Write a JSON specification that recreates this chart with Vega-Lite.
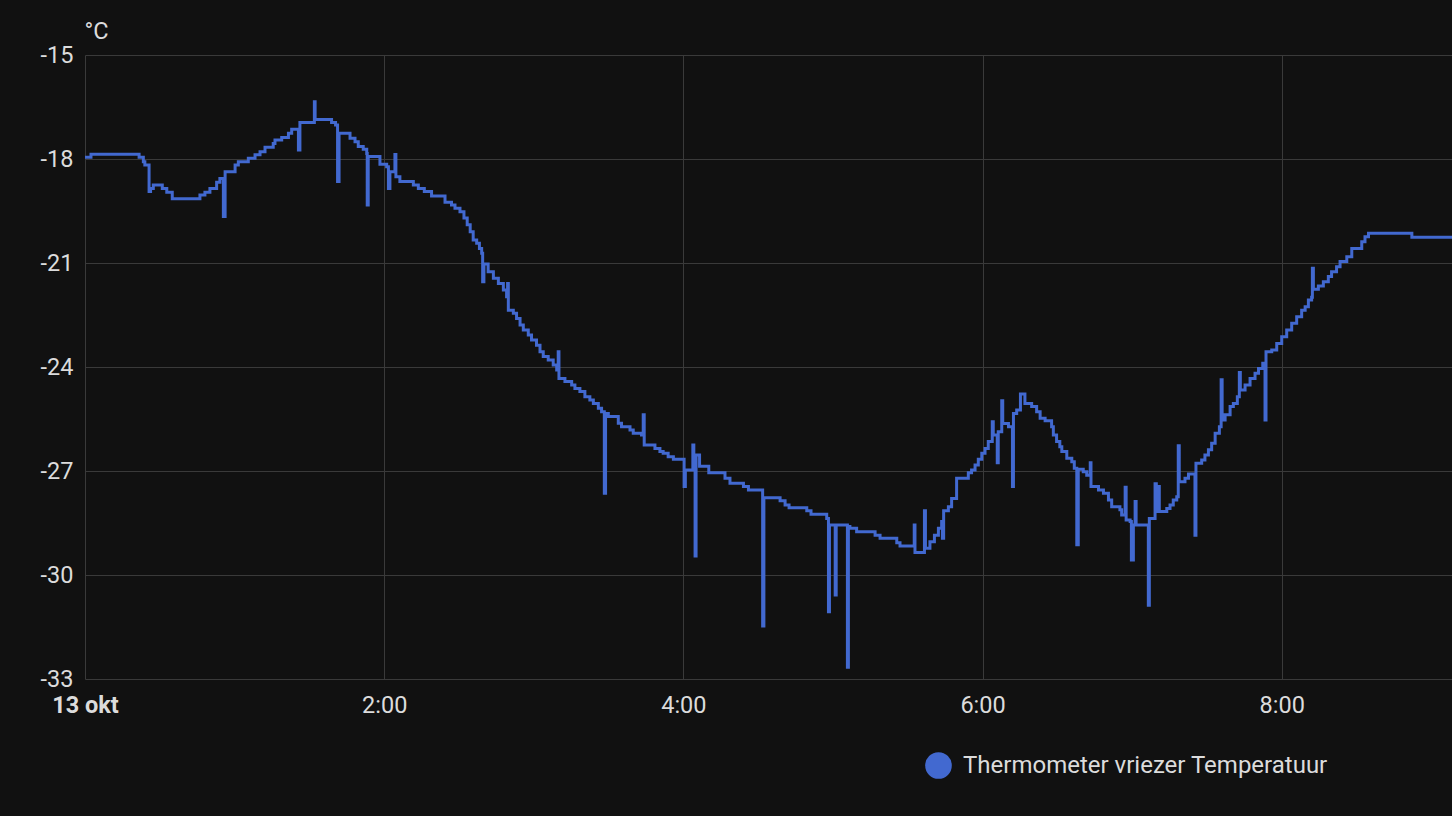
{
  "$schema": "https://vega.github.io/schema/vega-lite/v6.json",
  "width": 1367,
  "height": 624,
  "autosize": {"type": "none"},
  "padding": {"left": 85, "top": 55, "right": 0, "bottom": 137},
  "background": "#111111",
  "config": {
    "view": {"stroke": null},
    "font": "Roboto"
  },
  "data": {
    "values": [
      {"t": "2023-10-13T00:00:00", "v": -17.95, "s": "Thermometer vriezer Temperatuur"},
      {"t": "2023-10-13T00:02:24", "v": -17.86, "s": "Thermometer vriezer Temperatuur"},
      {"t": "2023-10-13T00:21:42", "v": -17.95, "s": "Thermometer vriezer Temperatuur"},
      {"t": "2023-10-13T00:23:24", "v": -18.08, "s": "Thermometer vriezer Temperatuur"},
      {"t": "2023-10-13T00:24:00", "v": -18.17, "s": "Thermometer vriezer Temperatuur"},
      {"t": "2023-10-13T00:25:42", "v": -18.94, "s": "Thermometer vriezer Temperatuur"},
      {"t": "2023-10-13T00:26:18", "v": -18.85, "s": "Thermometer vriezer Temperatuur"},
      {"t": "2023-10-13T00:27:24", "v": -18.75, "s": "Thermometer vriezer Temperatuur"},
      {"t": "2023-10-13T00:31:00", "v": -18.85, "s": "Thermometer vriezer Temperatuur"},
      {"t": "2023-10-13T00:32:48", "v": -18.96, "s": "Thermometer vriezer Temperatuur"},
      {"t": "2023-10-13T00:35:00", "v": -19.15, "s": "Thermometer vriezer Temperatuur"},
      {"t": "2023-10-13T00:46:06", "v": -19.04, "s": "Thermometer vriezer Temperatuur"},
      {"t": "2023-10-13T00:48:06", "v": -18.96, "s": "Thermometer vriezer Temperatuur"},
      {"t": "2023-10-13T00:50:06", "v": -18.85, "s": "Thermometer vriezer Temperatuur"},
      {"t": "2023-10-13T00:52:48", "v": -18.67, "s": "Thermometer vriezer Temperatuur"},
      {"t": "2023-10-13T00:54:06", "v": -18.56, "s": "Thermometer vriezer Temperatuur"},
      {"t": "2023-10-13T00:55:30", "v": -19.66, "s": "Thermometer vriezer Temperatuur"},
      {"t": "2023-10-13T00:55:54", "v": -19.66, "s": "Thermometer vriezer Temperatuur"},
      {"t": "2023-10-13T00:56:12", "v": -18.37, "s": "Thermometer vriezer Temperatuur"},
      {"t": "2023-10-13T01:00:12", "v": -18.17, "s": "Thermometer vriezer Temperatuur"},
      {"t": "2023-10-13T01:01:30", "v": -18.08, "s": "Thermometer vriezer Temperatuur"},
      {"t": "2023-10-13T01:05:30", "v": -17.98, "s": "Thermometer vriezer Temperatuur"},
      {"t": "2023-10-13T01:08:12", "v": -17.88, "s": "Thermometer vriezer Temperatuur"},
      {"t": "2023-10-13T01:10:12", "v": -17.79, "s": "Thermometer vriezer Temperatuur"},
      {"t": "2023-10-13T01:12:12", "v": -17.66, "s": "Thermometer vriezer Temperatuur"},
      {"t": "2023-10-13T01:15:30", "v": -17.55, "s": "Thermometer vriezer Temperatuur"},
      {"t": "2023-10-13T01:16:12", "v": -17.45, "s": "Thermometer vriezer Temperatuur"},
      {"t": "2023-10-13T01:18:54", "v": -17.38, "s": "Thermometer vriezer Temperatuur"},
      {"t": "2023-10-13T01:21:36", "v": -17.26, "s": "Thermometer vriezer Temperatuur"},
      {"t": "2023-10-13T01:22:54", "v": -17.14, "s": "Thermometer vriezer Temperatuur"},
      {"t": "2023-10-13T01:25:36", "v": -17.74, "s": "Thermometer vriezer Temperatuur"},
      {"t": "2023-10-13T01:26:12", "v": -16.95, "s": "Thermometer vriezer Temperatuur"},
      {"t": "2023-10-13T01:32:00", "v": -16.35, "s": "Thermometer vriezer Temperatuur"},
      {"t": "2023-10-13T01:32:18", "v": -16.86, "s": "Thermometer vriezer Temperatuur"},
      {"t": "2023-10-13T01:38:54", "v": -16.95, "s": "Thermometer vriezer Temperatuur"},
      {"t": "2023-10-13T01:40:30", "v": -17.02, "s": "Thermometer vriezer Temperatuur"},
      {"t": "2023-10-13T01:41:18", "v": -18.65, "s": "Thermometer vriezer Temperatuur"},
      {"t": "2023-10-13T01:41:54", "v": -17.26, "s": "Thermometer vriezer Temperatuur"},
      {"t": "2023-10-13T01:46:18", "v": -17.40, "s": "Thermometer vriezer Temperatuur"},
      {"t": "2023-10-13T01:48:18", "v": -17.50, "s": "Thermometer vriezer Temperatuur"},
      {"t": "2023-10-13T01:49:36", "v": -17.64, "s": "Thermometer vriezer Temperatuur"},
      {"t": "2023-10-13T01:51:36", "v": -17.72, "s": "Thermometer vriezer Temperatuur"},
      {"t": "2023-10-13T01:53:00", "v": -17.84, "s": "Thermometer vriezer Temperatuur"},
      {"t": "2023-10-13T01:53:12", "v": -19.33, "s": "Thermometer vriezer Temperatuur"},
      {"t": "2023-10-13T01:53:36", "v": -17.93, "s": "Thermometer vriezer Temperatuur"},
      {"t": "2023-10-13T01:58:18", "v": -18.15, "s": "Thermometer vriezer Temperatuur"},
      {"t": "2023-10-13T02:01:00", "v": -18.22, "s": "Thermometer vriezer Temperatuur"},
      {"t": "2023-10-13T02:01:42", "v": -18.85, "s": "Thermometer vriezer Temperatuur"},
      {"t": "2023-10-13T02:02:18", "v": -18.37, "s": "Thermometer vriezer Temperatuur"},
      {"t": "2023-10-13T02:04:18", "v": -17.87, "s": "Thermometer vriezer Temperatuur"},
      {"t": "2023-10-13T02:04:42", "v": -18.51, "s": "Thermometer vriezer Temperatuur"},
      {"t": "2023-10-13T02:06:18", "v": -18.65, "s": "Thermometer vriezer Temperatuur"},
      {"t": "2023-10-13T02:11:42", "v": -18.75, "s": "Thermometer vriezer Temperatuur"},
      {"t": "2023-10-13T02:13:42", "v": -18.85, "s": "Thermometer vriezer Temperatuur"},
      {"t": "2023-10-13T02:16:06", "v": -18.94, "s": "Thermometer vriezer Temperatuur"},
      {"t": "2023-10-13T02:19:00", "v": -19.07, "s": "Thermometer vriezer Temperatuur"},
      {"t": "2023-10-13T02:24:24", "v": -19.25, "s": "Thermometer vriezer Temperatuur"},
      {"t": "2023-10-13T02:27:00", "v": -19.33, "s": "Thermometer vriezer Temperatuur"},
      {"t": "2023-10-13T02:28:24", "v": -19.42, "s": "Thermometer vriezer Temperatuur"},
      {"t": "2023-10-13T02:30:24", "v": -19.52, "s": "Thermometer vriezer Temperatuur"},
      {"t": "2023-10-13T02:32:00", "v": -19.70, "s": "Thermometer vriezer Temperatuur"},
      {"t": "2023-10-13T02:33:18", "v": -19.90, "s": "Thermometer vriezer Temperatuur"},
      {"t": "2023-10-13T02:34:30", "v": -20.10, "s": "Thermometer vriezer Temperatuur"},
      {"t": "2023-10-13T02:35:42", "v": -20.34, "s": "Thermometer vriezer Temperatuur"},
      {"t": "2023-10-13T02:37:06", "v": -20.43, "s": "Thermometer vriezer Temperatuur"},
      {"t": "2023-10-13T02:38:12", "v": -20.58, "s": "Thermometer vriezer Temperatuur"},
      {"t": "2023-10-13T02:39:06", "v": -20.72, "s": "Thermometer vriezer Temperatuur"},
      {"t": "2023-10-13T02:39:30", "v": -21.54, "s": "Thermometer vriezer Temperatuur"},
      {"t": "2023-10-13T02:40:00", "v": -21.03, "s": "Thermometer vriezer Temperatuur"},
      {"t": "2023-10-13T02:41:42", "v": -21.25, "s": "Thermometer vriezer Temperatuur"},
      {"t": "2023-10-13T02:43:48", "v": -21.44, "s": "Thermometer vriezer Temperatuur"},
      {"t": "2023-10-13T02:45:48", "v": -21.59, "s": "Thermometer vriezer Temperatuur"},
      {"t": "2023-10-13T02:47:48", "v": -21.78, "s": "Thermometer vriezer Temperatuur"},
      {"t": "2023-10-13T02:49:06", "v": -21.97, "s": "Thermometer vriezer Temperatuur"},
      {"t": "2023-10-13T02:49:30", "v": -21.59, "s": "Thermometer vriezer Temperatuur"},
      {"t": "2023-10-13T02:49:48", "v": -22.36, "s": "Thermometer vriezer Temperatuur"},
      {"t": "2023-10-13T02:51:48", "v": -22.45, "s": "Thermometer vriezer Temperatuur"},
      {"t": "2023-10-13T02:53:06", "v": -22.60, "s": "Thermometer vriezer Temperatuur"},
      {"t": "2023-10-13T02:54:30", "v": -22.79, "s": "Thermometer vriezer Temperatuur"},
      {"t": "2023-10-13T02:55:48", "v": -22.93, "s": "Thermometer vriezer Temperatuur"},
      {"t": "2023-10-13T02:57:48", "v": -23.08, "s": "Thermometer vriezer Temperatuur"},
      {"t": "2023-10-13T02:59:06", "v": -23.22, "s": "Thermometer vriezer Temperatuur"},
      {"t": "2023-10-13T03:01:06", "v": -23.37, "s": "Thermometer vriezer Temperatuur"},
      {"t": "2023-10-13T03:02:30", "v": -23.56, "s": "Thermometer vriezer Temperatuur"},
      {"t": "2023-10-13T03:03:48", "v": -23.70, "s": "Thermometer vriezer Temperatuur"},
      {"t": "2023-10-13T03:05:48", "v": -23.80, "s": "Thermometer vriezer Temperatuur"},
      {"t": "2023-10-13T03:07:48", "v": -23.94, "s": "Thermometer vriezer Temperatuur"},
      {"t": "2023-10-13T03:09:12", "v": -24.09, "s": "Thermometer vriezer Temperatuur"},
      {"t": "2023-10-13T03:09:48", "v": -23.56, "s": "Thermometer vriezer Temperatuur"},
      {"t": "2023-10-13T03:10:06", "v": -24.33, "s": "Thermometer vriezer Temperatuur"},
      {"t": "2023-10-13T03:12:30", "v": -24.42, "s": "Thermometer vriezer Temperatuur"},
      {"t": "2023-10-13T03:15:12", "v": -24.52, "s": "Thermometer vriezer Temperatuur"},
      {"t": "2023-10-13T03:16:30", "v": -24.62, "s": "Thermometer vriezer Temperatuur"},
      {"t": "2023-10-13T03:18:30", "v": -24.71, "s": "Thermometer vriezer Temperatuur"},
      {"t": "2023-10-13T03:20:30", "v": -24.86, "s": "Thermometer vriezer Temperatuur"},
      {"t": "2023-10-13T03:22:30", "v": -24.95, "s": "Thermometer vriezer Temperatuur"},
      {"t": "2023-10-13T03:23:54", "v": -25.05, "s": "Thermometer vriezer Temperatuur"},
      {"t": "2023-10-13T03:25:54", "v": -25.19, "s": "Thermometer vriezer Temperatuur"},
      {"t": "2023-10-13T03:27:12", "v": -25.29, "s": "Thermometer vriezer Temperatuur"},
      {"t": "2023-10-13T03:28:18", "v": -27.64, "s": "Thermometer vriezer Temperatuur"},
      {"t": "2023-10-13T03:28:48", "v": -25.34, "s": "Thermometer vriezer Temperatuur"},
      {"t": "2023-10-13T03:29:54", "v": -25.43, "s": "Thermometer vriezer Temperatuur"},
      {"t": "2023-10-13T03:33:54", "v": -25.62, "s": "Thermometer vriezer Temperatuur"},
      {"t": "2023-10-13T03:35:12", "v": -25.72, "s": "Thermometer vriezer Temperatuur"},
      {"t": "2023-10-13T03:38:36", "v": -25.82, "s": "Thermometer vriezer Temperatuur"},
      {"t": "2023-10-13T03:39:54", "v": -25.91, "s": "Thermometer vriezer Temperatuur"},
      {"t": "2023-10-13T03:43:12", "v": -25.96, "s": "Thermometer vriezer Temperatuur"},
      {"t": "2023-10-13T03:43:54", "v": -25.38, "s": "Thermometer vriezer Temperatuur"},
      {"t": "2023-10-13T03:44:18", "v": -26.25, "s": "Thermometer vriezer Temperatuur"},
      {"t": "2023-10-13T03:48:36", "v": -26.35, "s": "Thermometer vriezer Temperatuur"},
      {"t": "2023-10-13T03:50:36", "v": -26.44, "s": "Thermometer vriezer Temperatuur"},
      {"t": "2023-10-13T03:51:54", "v": -26.49, "s": "Thermometer vriezer Temperatuur"},
      {"t": "2023-10-13T03:53:54", "v": -26.59, "s": "Thermometer vriezer Temperatuur"},
      {"t": "2023-10-13T03:56:00", "v": -26.66, "s": "Thermometer vriezer Temperatuur"},
      {"t": "2023-10-13T04:00:18", "v": -27.45, "s": "Thermometer vriezer Temperatuur"},
      {"t": "2023-10-13T04:00:48", "v": -26.97, "s": "Thermometer vriezer Temperatuur"},
      {"t": "2023-10-13T04:03:48", "v": -26.25, "s": "Thermometer vriezer Temperatuur"},
      {"t": "2023-10-13T04:04:12", "v": -26.97, "s": "Thermometer vriezer Temperatuur"},
      {"t": "2023-10-13T04:04:42", "v": -29.45, "s": "Thermometer vriezer Temperatuur"},
      {"t": "2023-10-13T04:05:06", "v": -26.54, "s": "Thermometer vriezer Temperatuur"},
      {"t": "2023-10-13T04:06:30", "v": -26.86, "s": "Thermometer vriezer Temperatuur"},
      {"t": "2023-10-13T04:10:12", "v": -27.05, "s": "Thermometer vriezer Temperatuur"},
      {"t": "2023-10-13T04:16:42", "v": -27.21, "s": "Thermometer vriezer Temperatuur"},
      {"t": "2023-10-13T04:18:42", "v": -27.35, "s": "Thermometer vriezer Temperatuur"},
      {"t": "2023-10-13T04:24:06", "v": -27.45, "s": "Thermometer vriezer Temperatuur"},
      {"t": "2023-10-13T04:26:06", "v": -27.55, "s": "Thermometer vriezer Temperatuur"},
      {"t": "2023-10-13T04:31:48", "v": -31.47, "s": "Thermometer vriezer Temperatuur"},
      {"t": "2023-10-13T04:32:18", "v": -27.77, "s": "Thermometer vriezer Temperatuur"},
      {"t": "2023-10-13T04:38:48", "v": -27.86, "s": "Thermometer vriezer Temperatuur"},
      {"t": "2023-10-13T04:40:48", "v": -27.98, "s": "Thermometer vriezer Temperatuur"},
      {"t": "2023-10-13T04:42:24", "v": -28.06, "s": "Thermometer vriezer Temperatuur"},
      {"t": "2023-10-13T04:49:30", "v": -28.15, "s": "Thermometer vriezer Temperatuur"},
      {"t": "2023-10-13T04:51:12", "v": -28.25, "s": "Thermometer vriezer Temperatuur"},
      {"t": "2023-10-13T04:57:30", "v": -28.37, "s": "Thermometer vriezer Temperatuur"},
      {"t": "2023-10-13T04:58:12", "v": -31.06, "s": "Thermometer vriezer Temperatuur"},
      {"t": "2023-10-13T04:58:36", "v": -28.56, "s": "Thermometer vriezer Temperatuur"},
      {"t": "2023-10-13T05:00:54", "v": -30.58, "s": "Thermometer vriezer Temperatuur"},
      {"t": "2023-10-13T05:01:18", "v": -28.56, "s": "Thermometer vriezer Temperatuur"},
      {"t": "2023-10-13T05:05:48", "v": -32.66, "s": "Thermometer vriezer Temperatuur"},
      {"t": "2023-10-13T05:06:12", "v": -28.60, "s": "Thermometer vriezer Temperatuur"},
      {"t": "2023-10-13T05:06:48", "v": -28.65, "s": "Thermometer vriezer Temperatuur"},
      {"t": "2023-10-13T05:09:30", "v": -28.75, "s": "Thermometer vriezer Temperatuur"},
      {"t": "2023-10-13T05:16:54", "v": -28.85, "s": "Thermometer vriezer Temperatuur"},
      {"t": "2023-10-13T05:18:54", "v": -28.94, "s": "Thermometer vriezer Temperatuur"},
      {"t": "2023-10-13T05:25:36", "v": -29.07, "s": "Thermometer vriezer Temperatuur"},
      {"t": "2023-10-13T05:26:54", "v": -29.16, "s": "Thermometer vriezer Temperatuur"},
      {"t": "2023-10-13T05:32:36", "v": -28.56, "s": "Thermometer vriezer Temperatuur"},
      {"t": "2023-10-13T05:32:54", "v": -29.35, "s": "Thermometer vriezer Temperatuur"},
      {"t": "2023-10-13T05:36:42", "v": -28.15, "s": "Thermometer vriezer Temperatuur"},
      {"t": "2023-10-13T05:37:06", "v": -29.23, "s": "Thermometer vriezer Temperatuur"},
      {"t": "2023-10-13T05:38:54", "v": -29.04, "s": "Thermometer vriezer Temperatuur"},
      {"t": "2023-10-13T05:40:42", "v": -28.85, "s": "Thermometer vriezer Temperatuur"},
      {"t": "2023-10-13T05:42:18", "v": -28.65, "s": "Thermometer vriezer Temperatuur"},
      {"t": "2023-10-13T05:43:36", "v": -28.46, "s": "Thermometer vriezer Temperatuur"},
      {"t": "2023-10-13T05:43:54", "v": -28.94, "s": "Thermometer vriezer Temperatuur"},
      {"t": "2023-10-13T05:44:24", "v": -28.15, "s": "Thermometer vriezer Temperatuur"},
      {"t": "2023-10-13T05:46:18", "v": -28.03, "s": "Thermometer vriezer Temperatuur"},
      {"t": "2023-10-13T05:47:36", "v": -27.79, "s": "Thermometer vriezer Temperatuur"},
      {"t": "2023-10-13T05:49:36", "v": -27.21, "s": "Thermometer vriezer Temperatuur"},
      {"t": "2023-10-13T05:54:18", "v": -27.05, "s": "Thermometer vriezer Temperatuur"},
      {"t": "2023-10-13T05:55:36", "v": -26.97, "s": "Thermometer vriezer Temperatuur"},
      {"t": "2023-10-13T05:57:00", "v": -26.83, "s": "Thermometer vriezer Temperatuur"},
      {"t": "2023-10-13T05:58:18", "v": -26.66, "s": "Thermometer vriezer Temperatuur"},
      {"t": "2023-10-13T05:59:42", "v": -26.49, "s": "Thermometer vriezer Temperatuur"},
      {"t": "2023-10-13T06:01:00", "v": -26.35, "s": "Thermometer vriezer Temperatuur"},
      {"t": "2023-10-13T06:02:18", "v": -26.15, "s": "Thermometer vriezer Temperatuur"},
      {"t": "2023-10-13T06:03:54", "v": -25.58, "s": "Thermometer vriezer Temperatuur"},
      {"t": "2023-10-13T06:04:18", "v": -25.96, "s": "Thermometer vriezer Temperatuur"},
      {"t": "2023-10-13T06:05:54", "v": -26.76, "s": "Thermometer vriezer Temperatuur"},
      {"t": "2023-10-13T06:06:18", "v": -25.87, "s": "Thermometer vriezer Temperatuur"},
      {"t": "2023-10-13T06:07:42", "v": -24.97, "s": "Thermometer vriezer Temperatuur"},
      {"t": "2023-10-13T06:08:06", "v": -25.63, "s": "Thermometer vriezer Temperatuur"},
      {"t": "2023-10-13T06:10:24", "v": -25.72, "s": "Thermometer vriezer Temperatuur"},
      {"t": "2023-10-13T06:12:00", "v": -27.45, "s": "Thermometer vriezer Temperatuur"},
      {"t": "2023-10-13T06:12:24", "v": -25.34, "s": "Thermometer vriezer Temperatuur"},
      {"t": "2023-10-13T06:13:42", "v": -25.24, "s": "Thermometer vriezer Temperatuur"},
      {"t": "2023-10-13T06:15:12", "v": -24.78, "s": "Thermometer vriezer Temperatuur"},
      {"t": "2023-10-13T06:17:00", "v": -25.05, "s": "Thermometer vriezer Temperatuur"},
      {"t": "2023-10-13T06:19:42", "v": -25.14, "s": "Thermometer vriezer Temperatuur"},
      {"t": "2023-10-13T06:21:42", "v": -25.29, "s": "Thermometer vriezer Temperatuur"},
      {"t": "2023-10-13T06:23:06", "v": -25.48, "s": "Thermometer vriezer Temperatuur"},
      {"t": "2023-10-13T06:25:06", "v": -25.55, "s": "Thermometer vriezer Temperatuur"},
      {"t": "2023-10-13T06:27:42", "v": -25.72, "s": "Thermometer vriezer Temperatuur"},
      {"t": "2023-10-13T06:28:24", "v": -25.96, "s": "Thermometer vriezer Temperatuur"},
      {"t": "2023-10-13T06:29:42", "v": -26.15, "s": "Thermometer vriezer Temperatuur"},
      {"t": "2023-10-13T06:31:00", "v": -26.30, "s": "Thermometer vriezer Temperatuur"},
      {"t": "2023-10-13T06:31:48", "v": -26.44, "s": "Thermometer vriezer Temperatuur"},
      {"t": "2023-10-13T06:33:48", "v": -26.63, "s": "Thermometer vriezer Temperatuur"},
      {"t": "2023-10-13T06:35:48", "v": -26.73, "s": "Thermometer vriezer Temperatuur"},
      {"t": "2023-10-13T06:36:48", "v": -26.92, "s": "Thermometer vriezer Temperatuur"},
      {"t": "2023-10-13T06:37:48", "v": -29.13, "s": "Thermometer vriezer Temperatuur"},
      {"t": "2023-10-13T06:38:24", "v": -26.95, "s": "Thermometer vriezer Temperatuur"},
      {"t": "2023-10-13T06:40:24", "v": -27.02, "s": "Thermometer vriezer Temperatuur"},
      {"t": "2023-10-13T06:41:48", "v": -27.12, "s": "Thermometer vriezer Temperatuur"},
      {"t": "2023-10-13T06:43:12", "v": -26.76, "s": "Thermometer vriezer Temperatuur"},
      {"t": "2023-10-13T06:43:30", "v": -27.45, "s": "Thermometer vriezer Temperatuur"},
      {"t": "2023-10-13T06:46:30", "v": -27.55, "s": "Thermometer vriezer Temperatuur"},
      {"t": "2023-10-13T06:48:30", "v": -27.64, "s": "Thermometer vriezer Temperatuur"},
      {"t": "2023-10-13T06:50:30", "v": -27.84, "s": "Thermometer vriezer Temperatuur"},
      {"t": "2023-10-13T06:51:48", "v": -28.03, "s": "Thermometer vriezer Temperatuur"},
      {"t": "2023-10-13T06:55:06", "v": -28.12, "s": "Thermometer vriezer Temperatuur"},
      {"t": "2023-10-13T06:55:48", "v": -28.27, "s": "Thermometer vriezer Temperatuur"},
      {"t": "2023-10-13T06:57:12", "v": -27.47, "s": "Thermometer vriezer Temperatuur"},
      {"t": "2023-10-13T06:57:36", "v": -28.41, "s": "Thermometer vriezer Temperatuur"},
      {"t": "2023-10-13T06:59:12", "v": -28.46, "s": "Thermometer vriezer Temperatuur"},
      {"t": "2023-10-13T06:59:42", "v": -29.57, "s": "Thermometer vriezer Temperatuur"},
      {"t": "2023-10-13T07:00:12", "v": -29.57, "s": "Thermometer vriezer Temperatuur"},
      {"t": "2023-10-13T07:00:30", "v": -28.56, "s": "Thermometer vriezer Temperatuur"},
      {"t": "2023-10-13T07:01:12", "v": -27.88, "s": "Thermometer vriezer Temperatuur"},
      {"t": "2023-10-13T07:01:36", "v": -28.56, "s": "Thermometer vriezer Temperatuur"},
      {"t": "2023-10-13T07:06:30", "v": -30.87, "s": "Thermometer vriezer Temperatuur"},
      {"t": "2023-10-13T07:06:54", "v": -28.37, "s": "Thermometer vriezer Temperatuur"},
      {"t": "2023-10-13T07:09:12", "v": -27.37, "s": "Thermometer vriezer Temperatuur"},
      {"t": "2023-10-13T07:09:42", "v": -28.17, "s": "Thermometer vriezer Temperatuur"},
      {"t": "2023-10-13T07:10:30", "v": -27.45, "s": "Thermometer vriezer Temperatuur"},
      {"t": "2023-10-13T07:10:54", "v": -28.17, "s": "Thermometer vriezer Temperatuur"},
      {"t": "2023-10-13T07:13:54", "v": -28.08, "s": "Thermometer vriezer Temperatuur"},
      {"t": "2023-10-13T07:15:12", "v": -27.98, "s": "Thermometer vriezer Temperatuur"},
      {"t": "2023-10-13T07:16:30", "v": -27.84, "s": "Thermometer vriezer Temperatuur"},
      {"t": "2023-10-13T07:17:54", "v": -27.74, "s": "Thermometer vriezer Temperatuur"},
      {"t": "2023-10-13T07:18:30", "v": -26.27, "s": "Thermometer vriezer Temperatuur"},
      {"t": "2023-10-13T07:18:54", "v": -27.31, "s": "Thermometer vriezer Temperatuur"},
      {"t": "2023-10-13T07:21:12", "v": -27.21, "s": "Thermometer vriezer Temperatuur"},
      {"t": "2023-10-13T07:22:36", "v": -27.09, "s": "Thermometer vriezer Temperatuur"},
      {"t": "2023-10-13T07:25:12", "v": -28.85, "s": "Thermometer vriezer Temperatuur"},
      {"t": "2023-10-13T07:25:36", "v": -26.78, "s": "Thermometer vriezer Temperatuur"},
      {"t": "2023-10-13T07:27:54", "v": -26.68, "s": "Thermometer vriezer Temperatuur"},
      {"t": "2023-10-13T07:29:12", "v": -26.54, "s": "Thermometer vriezer Temperatuur"},
      {"t": "2023-10-13T07:30:36", "v": -26.39, "s": "Thermometer vriezer Temperatuur"},
      {"t": "2023-10-13T07:31:54", "v": -26.20, "s": "Thermometer vriezer Temperatuur"},
      {"t": "2023-10-13T07:33:18", "v": -25.91, "s": "Thermometer vriezer Temperatuur"},
      {"t": "2023-10-13T07:35:00", "v": -25.72, "s": "Thermometer vriezer Temperatuur"},
      {"t": "2023-10-13T07:35:42", "v": -24.37, "s": "Thermometer vriezer Temperatuur"},
      {"t": "2023-10-13T07:36:06", "v": -25.53, "s": "Thermometer vriezer Temperatuur"},
      {"t": "2023-10-13T07:37:18", "v": -25.38, "s": "Thermometer vriezer Temperatuur"},
      {"t": "2023-10-13T07:39:18", "v": -25.14, "s": "Thermometer vriezer Temperatuur"},
      {"t": "2023-10-13T07:40:36", "v": -25.05, "s": "Thermometer vriezer Temperatuur"},
      {"t": "2023-10-13T07:42:12", "v": -24.86, "s": "Thermometer vriezer Temperatuur"},
      {"t": "2023-10-13T07:43:00", "v": -24.16, "s": "Thermometer vriezer Temperatuur"},
      {"t": "2023-10-13T07:43:24", "v": -24.66, "s": "Thermometer vriezer Temperatuur"},
      {"t": "2023-10-13T07:45:18", "v": -24.52, "s": "Thermometer vriezer Temperatuur"},
      {"t": "2023-10-13T07:47:18", "v": -24.33, "s": "Thermometer vriezer Temperatuur"},
      {"t": "2023-10-13T07:49:18", "v": -24.18, "s": "Thermometer vriezer Temperatuur"},
      {"t": "2023-10-13T07:50:42", "v": -24.04, "s": "Thermometer vriezer Temperatuur"},
      {"t": "2023-10-13T07:52:24", "v": -23.89, "s": "Thermometer vriezer Temperatuur"},
      {"t": "2023-10-13T07:53:18", "v": -25.53, "s": "Thermometer vriezer Temperatuur"},
      {"t": "2023-10-13T07:53:42", "v": -23.56, "s": "Thermometer vriezer Temperatuur"},
      {"t": "2023-10-13T07:56:00", "v": -23.51, "s": "Thermometer vriezer Temperatuur"},
      {"t": "2023-10-13T07:58:00", "v": -23.32, "s": "Thermometer vriezer Temperatuur"},
      {"t": "2023-10-13T08:00:00", "v": -23.13, "s": "Thermometer vriezer Temperatuur"},
      {"t": "2023-10-13T08:02:00", "v": -22.93, "s": "Thermometer vriezer Temperatuur"},
      {"t": "2023-10-13T08:04:00", "v": -22.74, "s": "Thermometer vriezer Temperatuur"},
      {"t": "2023-10-13T08:06:00", "v": -22.55, "s": "Thermometer vriezer Temperatuur"},
      {"t": "2023-10-13T08:08:00", "v": -22.36, "s": "Thermometer vriezer Temperatuur"},
      {"t": "2023-10-13T08:09:24", "v": -22.26, "s": "Thermometer vriezer Temperatuur"},
      {"t": "2023-10-13T08:10:42", "v": -22.07, "s": "Thermometer vriezer Temperatuur"},
      {"t": "2023-10-13T08:12:00", "v": -21.99, "s": "Thermometer vriezer Temperatuur"},
      {"t": "2023-10-13T08:12:18", "v": -21.15, "s": "Thermometer vriezer Temperatuur"},
      {"t": "2023-10-13T08:12:42", "v": -21.76, "s": "Thermometer vriezer Temperatuur"},
      {"t": "2023-10-13T08:14:42", "v": -21.66, "s": "Thermometer vriezer Temperatuur"},
      {"t": "2023-10-13T08:16:42", "v": -21.54, "s": "Thermometer vriezer Temperatuur"},
      {"t": "2023-10-13T08:18:42", "v": -21.39, "s": "Thermometer vriezer Temperatuur"},
      {"t": "2023-10-13T08:20:00", "v": -21.25, "s": "Thermometer vriezer Temperatuur"},
      {"t": "2023-10-13T08:22:00", "v": -21.11, "s": "Thermometer vriezer Temperatuur"},
      {"t": "2023-10-13T08:23:24", "v": -20.96, "s": "Thermometer vriezer Temperatuur"},
      {"t": "2023-10-13T08:26:06", "v": -20.82, "s": "Thermometer vriezer Temperatuur"},
      {"t": "2023-10-13T08:28:06", "v": -20.58, "s": "Thermometer vriezer Temperatuur"},
      {"t": "2023-10-13T08:32:06", "v": -20.39, "s": "Thermometer vriezer Temperatuur"},
      {"t": "2023-10-13T08:33:24", "v": -20.24, "s": "Thermometer vriezer Temperatuur"},
      {"t": "2023-10-13T08:34:48", "v": -20.14, "s": "Thermometer vriezer Temperatuur"},
      {"t": "2023-10-13T08:52:12", "v": -20.26, "s": "Thermometer vriezer Temperatuur"},
      {"t": "2023-10-13T09:08:18", "v": -20.26, "s": "Thermometer vriezer Temperatuur"}
    ]
  },
  "mark": {"type": "line", "interpolate": "step-after", "strokeWidth": 3},
  "encoding": {
    "x": {
      "field": "t",
      "type": "temporal",
      "scale": {"nice": false},
      "axis": {
        "title": null,
        "values": [
          {"year": 2023, "month": 10, "date": 13, "hours": 0},
          {"year": 2023, "month": 10, "date": 13, "hours": 2},
          {"year": 2023, "month": 10, "date": 13, "hours": 4},
          {"year": 2023, "month": 10, "date": 13, "hours": 6},
          {"year": 2023, "month": 10, "date": 13, "hours": 8}
        ],
        "labelExpr": "hours(datum.value) == 0 ? '13 okt' : timeFormat(datum.value, '%-H:%M')",
        "labelFontWeight": {"condition": {"test": "hours(datum.value) == 0", "value": "bold"}, "value": "normal"},
        "labelFont": "Roboto",
        "labelFontSize": 23.5,
        "labelColor": "#dcdcdc",
        "labelPadding": 14,
        "labelFlush": false,
        "labelOverlap": false,
        "domain": false,
        "ticks": false,
        "grid": true,
        "gridColor": "#3a3a3a",
        "gridWidth": 1
      }
    },
    "y": {
      "field": "v",
      "type": "quantitative",
      "scale": {"domain": [-33, -15], "nice": false, "zero": false},
      "axis": {
        "title": "°C",
        "titleAngle": 0,
        "titleX": -1,
        "titleY": -17,
        "titleAlign": "left",
        "titleBaseline": "alphabetic",
        "titleFont": "Roboto",
        "titleFontSize": 23.5,
        "titleFontWeight": "normal",
        "titleColor": "#dcdcdc",
        "values": [-33, -30, -27, -24, -21, -18, -15],
        "labelExpr": "'' + datum.value",
        "labelFont": "Roboto",
        "labelFontSize": 23.5,
        "labelColor": "#dcdcdc",
        "labelPadding": 12,
        "labelFlush": false,
        "domain": false,
        "ticks": false,
        "grid": true,
        "gridColor": "#3a3a3a",
        "gridWidth": 1
      }
    },
    "color": {
      "field": "s",
      "type": "nominal",
      "scale": {"range": ["#4269d0"]},
      "legend": {
        "title": null,
        "orient": "none",
        "legendX": 840,
        "legendY": 697,
        "symbolType": "circle",
        "symbolSize": 710,
        "symbolStrokeWidth": 0,
        "symbolFillColor": "#4269d0",
        "labelFont": "Roboto",
        "labelFontSize": 24,
        "labelColor": "#dcdcdc",
        "labelOffset": 11,
        "labelLimit": 0
      }
    }
  }
}
